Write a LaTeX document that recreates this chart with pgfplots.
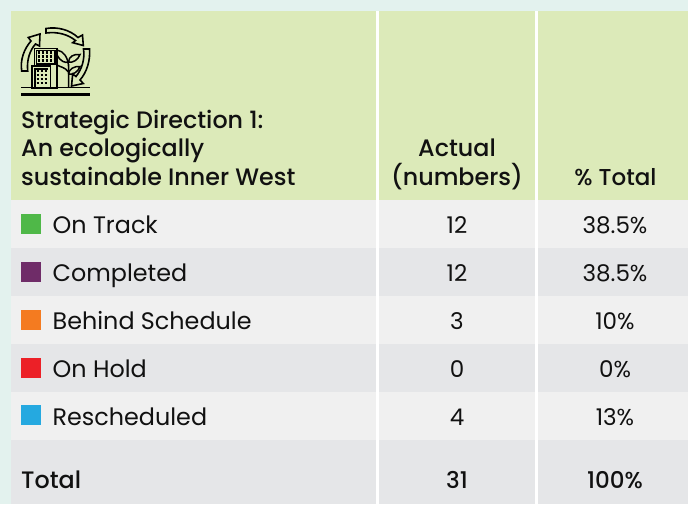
\documentclass[border=0pt]{standalone}
\usepackage{pgfplots}
\pgfplotsset{compat=1.18}
\usepackage{fontspec}
\setmainfont{Poppins}
\newfontfamily\med{Poppins Medium}
\definecolor{bg}{HTML}{E3F2EE}
\definecolor{head}{HTML}{DCEAB9}
\definecolor{lt}{HTML}{F0F0F0}
\definecolor{dk}{HTML}{E5E6E8}
\definecolor{ink}{HTML}{111111}
\definecolor{cA}{HTML}{4FB848}
\definecolor{cB}{HTML}{6F2C68}
\definecolor{cC}{HTML}{F47B20}
\definecolor{cD}{HTML}{EC2027}
\definecolor{cE}{HTML}{25A9E0}
\tikzset{
  txt/.style={inner sep=0pt, text=ink, font=\fontsize{23.85}{24}\selectfont},
  num/.style={inner sep=0pt, text=ink, font=\fontsize{23}{23}\selectfont},
  hd/.style={inner sep=0pt, text=ink, font=\fontsize{23.8}{24}\selectfont\med},
  hn/.style={inner sep=0pt, text=ink, font=\fontsize{23}{23}\selectfont\med},
  win/.style={line width=2.3pt, dash pattern=on 2.3pt off 1.7pt},
}
\begin{document}
\begin{tikzpicture}
\begin{axis}[
  scale only axis, width=688pt, height=504pt,
  xmin=0, xmax=688, ymin=0, ymax=504, y dir=reverse,
  axis lines=none, clip=false, ticks=none,
]
% panels
\addplot[fill=bg,draw=none] coordinates {(0,0)(688,0)(688,504)(0,504)} -- cycle;
\addplot[fill=head,draw=none] coordinates {(10.5,11)(688,11)(688,200)(10.5,200)} -- cycle;
\addplot[fill=lt,draw=none] coordinates {(10.5,200)(688,200)(688,248)(10.5,248)} -- cycle;
\addplot[fill=dk,draw=none] coordinates {(10.5,248)(688,248)(688,296)(10.5,296)} -- cycle;
\addplot[fill=lt,draw=none] coordinates {(10.5,296)(688,296)(688,344)(10.5,344)} -- cycle;
\addplot[fill=dk,draw=none] coordinates {(10.5,344)(688,344)(688,392)(10.5,392)} -- cycle;
\addplot[fill=lt,draw=none] coordinates {(10.5,392)(688,392)(688,440)(10.5,440)} -- cycle;
\addplot[fill=dk,draw=none] coordinates {(10.5,440)(688,440)(688,504)(10.5,504)} -- cycle;
% column separators
\addplot[fill=white,draw=none] coordinates {(376.2,11)(379,11)(379,504)(376.2,504)} -- cycle;
\addplot[fill=white,draw=none] coordinates {(535,11)(537.7,11)(537.7,504)(535,504)} -- cycle;
% swatches
\addplot[fill=cA,draw=none] coordinates {(21,214)(41,214)(41,234)(21,234)} -- cycle;
\addplot[fill=cB,draw=none] coordinates {(21,262)(41,262)(41,282)(21,282)} -- cycle;
\addplot[fill=cC,draw=none] coordinates {(21,310)(41,310)(41,330)(21,330)} -- cycle;
\addplot[fill=cD,draw=none] coordinates {(21,358)(41,358)(41,378)(21,378)} -- cycle;
\addplot[fill=cE,draw=none] coordinates {(21,405)(41,405)(41,425)(21,425)} -- cycle;
% header text
\node[hd,anchor=base west] at (axis cs:21,128) {Strategic Direction 1:};
\node[hd,anchor=base west] at (axis cs:21,156) {An ecologically};
\node[hd,anchor=base west] at (axis cs:21,185) {sustainable Inner West};
\node[hd,anchor=base] at (axis cs:457,156) {Actual};
\node[hd,anchor=base] at (axis cs:457,185) {(numbers)};
\node[hn,anchor=base] at (axis cs:615.5,185) {\% Total};
% rows
\node[txt,anchor=base west] at (axis cs:52.5,233) {On Track};
\node[txt,anchor=base west] at (axis cs:52.5,281) {Completed};
\node[txt,anchor=base west] at (axis cs:52.5,329) {Behind Schedule};
\node[txt,anchor=base west] at (axis cs:52.5,377) {On Hold};
\node[txt,anchor=base west] at (axis cs:52.5,425) {Rescheduled};
\node[num,anchor=base] at (axis cs:457,233) {12};
\node[num,anchor=base] at (axis cs:457,281) {12};
\node[num,anchor=base] at (axis cs:457,329) {3};
\node[num,anchor=base] at (axis cs:457,377) {0};
\node[num,anchor=base] at (axis cs:457,425) {4};
\node[num,anchor=base] at (axis cs:615,233) {38.5\%};
\node[num,anchor=base] at (axis cs:615,281) {38.5\%};
\node[num,anchor=base] at (axis cs:615,329) {10\%};
\node[num,anchor=base] at (axis cs:615,377) {0\%};
\node[num,anchor=base] at (axis cs:615,425) {13\%};
\node[hd,anchor=base west] at (axis cs:21,488.5) {Total};
\node[hn,anchor=base] at (axis cs:457,488.5) {31};
\node[hn,anchor=base] at (axis cs:615,488.5) {100\%};
% icon: recycling arrows
\draw[line width=1.6pt,fill=head] (46,28.5) .. controls (58,26.5) and (70,30) .. (78,37.5) -- (82.5,35) -- (83.3,45.5) -- (72.7,42.7) -- (75.5,40.5) .. controls (68,34.5) and (58,31.5) .. (46,33) -- cycle;
\draw[line width=1.6pt,fill=head] (83.5,49) -- (89.5,49) .. controls (90.5,60) and (87,72) .. (80,80) -- (83.3,83.5) -- (71.5,86) -- (72.7,74) -- (76,76.5) .. controls (82,69) and (85,59) .. (83.5,49) -- cycle;
\draw[line width=1.6pt,fill=head] (21.7,71) .. controls (20,60) and (24,49) .. (31,41) -- (28.3,37.5) -- (40,34) -- (39.5,46) -- (35.5,44) .. controls (30,50) and (26.5,60) .. (27.7,71) -- cycle;
% plant
\draw[line width=1.5pt] (68.5,87.7) -- (68.5,64) (57,50) .. controls (64,51) and (68,58) .. (68.5,66);
\draw[line width=1.5pt] (68.5,62) .. controls (69,56) and (74,54) .. (80,54.5) .. controls (78,60) and (73,63) .. (68.5,62);
\draw[line width=1.5pt] (68.5,74) .. controls (69,69) and (74,66) .. (80,66.5) .. controls (78,72) and (73,75) .. (68.5,74);
\draw[line width=1.5pt] (57,65) .. controls (60,67) and (65,67) .. (68.5,72);
\draw[line width=1.5pt] (57,55) .. controls (61,62) and (65,63) .. (68.5,62);
% buildings
\draw[line width=1.7pt,fill=head] (34.5,66) -- (34.5,48.5) -- (57,48.5) -- (57,87.7) -- (34.5,87.7) -- cycle;
\draw[line width=1.2pt] (36.5,50.5) -- (36.5,64) -- (55,64) -- (55,50.5) -- cycle;
\draw[line width=1.7pt,fill=head] (32,87.7) -- (32,66) -- (50.5,66) -- (50.5,87.7) -- cycle;
\draw[line width=1.2pt] (35,87.7) -- (35,69) -- (47.5,69);
\draw[win] (37.5,52.6) -- (54.5,52.6);
\draw[win] (37.5,56.6) -- (54.5,56.6);
\draw[win] (37.5,60.6) -- (54.5,60.6);
\draw[win] (36.5,71.1) -- (47,71.1);
\draw[win] (36.5,75.1) -- (47,75.1);
\draw[win] (36.5,79.1) -- (47,79.1);
\draw[win] (36.5,83.1) -- (47,83.1);
% ground
\fill[black] (21,93) rectangle (90,96);
\draw[line width=1.5pt] (21,87.7) -- (90,87.7);
\end{axis}
\end{tikzpicture}
\end{document}
